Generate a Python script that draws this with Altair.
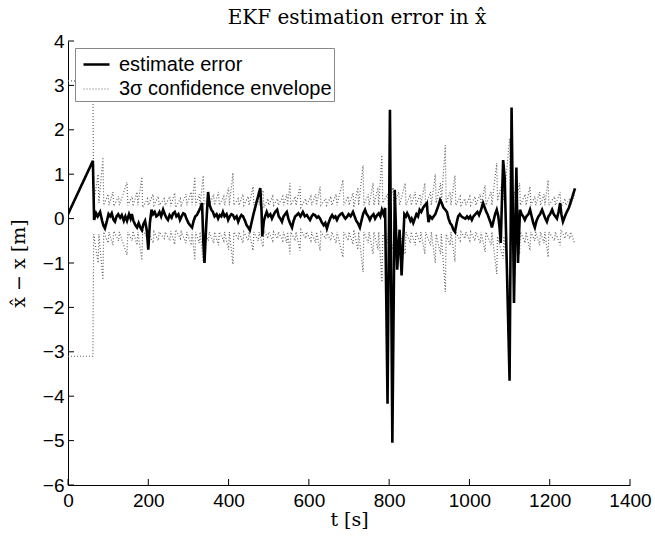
import altair as alt
import pandas as pd

# estimate error (t [s], value [m])
err_t = [0, 62, 65, 70, 74, 80, 85, 88, 92, 97, 101, 105, 109, 113, 117, 121, 125, 130, 134, 139,
         143, 147, 152, 156, 159, 163, 168, 172, 176, 180, 184, 188, 192, 196, 200, 204, 208, 212,
         216, 220, 224, 228, 232, 237, 241, 245, 249, 253, 258, 262, 266, 270, 275, 279, 283, 287,
         291, 295, 300, 304, 309, 313, 317, 321, 325, 330, 334, 337, 340, 344, 349, 353, 357, 361,
         365, 370, 374, 378, 382, 386, 390, 395, 399, 403, 407, 411, 415, 420, 424, 428, 432, 436,
         441, 445, 449, 453, 457, 462, 466, 472, 479, 482, 484, 488, 491, 495, 499, 504, 508, 512,
         516, 521, 525, 529, 533, 537, 541, 545, 549, 553, 558, 562, 566, 570, 574, 579, 585, 590,
         595, 599, 603, 607, 611, 615, 620, 624, 628, 632, 637, 641, 645, 649, 654, 658, 662, 666,
         670, 674, 679, 683, 687, 691, 695, 699, 704, 710, 714, 718, 722, 727, 731, 735, 740, 744,
         748, 752, 756, 761, 765, 770, 774, 778, 782, 786, 790, 796, 802, 808, 814, 820, 826, 831,
         838, 842, 845, 849, 853, 856, 860, 864, 868, 872, 876, 880, 885, 889, 894, 896, 898, 902,
         907, 911, 915, 919, 923, 927, 931, 935, 940, 944, 948, 952, 956, 960, 964, 968, 972, 976,
         980, 985, 990, 994, 998, 1002, 1006, 1010, 1015, 1020, 1024, 1029, 1034, 1038, 1042,
         1045, 1049, 1053, 1056, 1060, 1064, 1068, 1072, 1075, 1078, 1081, 1084, 1088, 1100, 1105,
         1111, 1117, 1121, 1126, 1130, 1134, 1138, 1142, 1147, 1151, 1155, 1159, 1163, 1167, 1172,
         1176, 1181, 1185, 1189, 1193, 1197, 1201, 1206, 1210, 1214, 1218, 1222, 1226, 1229, 1233,
         1240, 1248, 1255, 1263]
err_v = [0.1, 1.3, -0.03, 0.12, 0.05, 0.15, -0.05, -0.15, -0.22, -0.05, 0.1, 0.05, 0.12, -0.02,
         -0.07, 0.05, 0.1, 0.02, 0.08, -0.05, 0.05, -0.05, 0.1, 0.0, 0.1, -0.05, -0.15, -0.2, -0.1,
         -0.2, -0.26, -0.12, -0.05, -0.25, -0.7, -0.1, 0.2, 0.1, 0.15, 0.05, 0.08, 0.15, 0.05, 0.2,
         0.1, 0.02, -0.03, 0.08, 0.02, 0.12, 0.15, 0.05, 0.1, -0.03, 0.05, 0.12, 0.1, 0.0, -0.1,
         -0.15, -0.2, -0.05, 0.05, 0.08, 0.15, 0.25, 0.35, -0.5, -1.0, -0.2, 0.6, 0.3, 0.2, 0.15,
         0.05, 0.1, 0.0, 0.08, 0.05, 0.15, 0.05, 0.1, -0.03, 0.05, 0.1, 0.08, 0.0, 0.05, -0.07,
         0.02, 0.08, 0.05, -0.05, -0.15, -0.2, -0.26, -0.1, 0.1, 0.24, 0.45, 0.69, 0.2, -0.4, -0.05,
         0.05, 0.15, 0.05, 0.1, 0.0, 0.08, 0.15, 0.2, 0.05, 0.0, -0.07, 0.05, 0.1, 0.15, 0.0, -0.1,
         -0.2, -0.05, 0.05, 0.08, 0.12, 0.05, 0.15, 0.05, 0.08, 0.02, -0.03, 0.05, 0.1, 0.08, 0.02,
         0.05, 0.0, -0.08, -0.15, -0.1, -0.22, -0.1, 0.02, 0.08, 0.02, 0.05, -0.03, 0.05, 0.1, 0.12,
         0.05, 0.0, 0.04, 0.1, 0.05, 0.15, 0.05, -0.05, -0.1, -0.2, -0.05, 0.1, 0.2, 0.1, 0.05,
         -0.03, 0.05, 0.1, 0.0, 0.08, 0.12, 0.05, 0.2, 0.1, 0.24, -4.17, 2.45, -5.05, 0.65, -1.15,
         -0.25, -1.28, 0.1, 0.05, 0.12, 0.05, -0.05, 0.0, -0.1, 0.0, 0.1, 0.05, 0.2, 0.15, 0.25,
         0.3, 0.35, 0.1, -0.08, 0.05, 0.0, 0.05, 0.1, 0.2, 0.3, 0.42, 0.35, 0.25, 0.2, 0.15, 0.0,
         -0.1, -0.15, -0.25, -0.3, -0.1, 0.05, 0.1, 0.05, 0.02, 0.0, 0.05, 0.0, 0.05, -0.03, 0.05,
         0.1, 0.15, 0.08, 0.2, 0.35, 0.25, 0.15, 0.1, 0.0, -0.1, -0.2, -0.05, 0.1, 0.2, 0.05, -0.2,
         -0.55, 0.4, 1.32, 0.9, -3.65, 2.5, -1.9, 1.15, -1.0, 0.2, 0.1, 0.05, -0.03, 0.05, 0.1, 0.2,
         0.05, -0.1, -0.2, -0.05, 0.05, 0.1, 0.2, 0.1, 0.0, -0.07, 0.05, 0.1, 0.2, 0.1, 0.05, 0.0,
         0.15, 0.35, 0.1, -0.07, 0.1, 0.25, 0.45, 0.68]

# 3-sigma envelope half-width (plotted as +/-)
env_t = [0, 62, 64, 75, 77, 87, 89, 100, 102, 112, 114, 126, 128, 147, 149, 160, 162, 172, 174,
         184, 186, 198, 200, 212, 214, 225, 227, 240, 242, 254, 256, 266, 268, 280, 282, 294, 296,
         307, 309, 316, 318, 327, 329, 337, 339, 350, 352, 363, 365, 375, 377, 388, 390, 400, 402,
         411, 413, 424, 426, 436, 438, 449, 451, 461, 463, 474, 476, 486, 488, 498, 500, 510, 512,
         522, 524, 535, 537, 545, 547, 553, 555, 566, 568, 578, 580, 592, 594, 605, 607, 617, 619,
         628, 630, 642, 644, 655, 657, 668, 670, 685, 687, 698, 700, 710, 712, 722, 724, 735, 737,
         748, 750, 760, 762, 772, 774, 782, 784, 796, 798, 810, 812, 824, 826, 840, 842, 853, 855,
         865, 867, 877, 879, 889, 891, 903, 905, 915, 917, 928, 930, 940, 942, 952, 954, 964, 966,
         977, 979, 989, 991, 1001, 1003, 1014, 1016, 1027, 1029, 1039, 1041, 1054, 1056, 1068,
         1070, 1084, 1086, 1100, 1102, 1113, 1115, 1125, 1127, 1139, 1141, 1151, 1153, 1163, 1165,
         1175, 1177, 1186, 1188, 1196, 1198, 1212, 1214, 1226, 1228, 1238, 1240, 1250, 1252, 1262]
env_v = [3.1, 3.1, 0.35, 1.0, 0.35, 1.38, 0.3, 0.55, 0.3, 0.6, 0.28, 0.5, 0.3, 0.82, 0.3, 0.5,
         0.28, 0.6, 0.3, 0.94, 0.25, 0.45, 0.3, 0.55, 0.3, 0.5, 0.3, 0.45, 0.3, 0.5, 0.28, 0.58,
         0.25, 0.45, 0.3, 0.55, 0.3, 0.6, 0.3, 0.94, 0.3, 0.55, 0.3, 0.97, 0.3, 0.5, 0.3, 0.55, 0.3,
         0.6, 0.3, 0.5, 0.3, 0.7, 0.3, 1.03, 0.3, 0.45, 0.3, 0.55, 0.3, 0.5, 0.3, 0.72, 0.3, 0.5,
         0.3, 0.64, 0.25, 0.45, 0.3, 0.5, 0.3, 0.45, 0.3, 0.5, 0.3, 0.55, 0.3, 0.8, 0.3, 0.5, 0.3,
         0.72, 0.25, 0.45, 0.3, 0.5, 0.3, 0.55, 0.3, 0.72, 0.3, 0.45, 0.3, 0.5, 0.3, 0.55, 0.3,
         0.87, 0.3, 0.5, 0.3, 0.58, 0.25, 0.7, 0.3, 1.2, 0.3, 0.55, 0.3, 0.8, 0.3, 0.7, 0.3, 1.43,
         0.35, 0.55, 0.3, 0.7, 0.3, 0.6, 0.3, 0.8, 0.3, 0.55, 0.3, 0.6, 0.3, 0.55, 0.3, 0.8, 0.3,
         0.6, 0.3, 1.0, 0.35, 0.8, 0.35, 1.65, 0.35, 0.6, 0.3, 0.97, 0.3, 0.5, 0.3, 0.45, 0.3, 0.5,
         0.3, 0.5, 0.3, 0.55, 0.3, 0.75, 0.3, 0.6, 0.3, 1.25, 0.4, 0.9, 0.4, 1.8, 0.4, 0.6, 0.3,
         0.8, 0.3, 0.55, 0.3, 0.72, 0.3, 0.5, 0.3, 0.6, 0.3, 0.55, 0.3, 0.87, 0.3, 0.5, 0.3, 0.6,
         0.25, 0.45, 0.3, 0.45, 0.3, 0.55]

x_ticks = [0, 200, 400, 600, 800, 1000, 1200, 1400]
y_ticks = [-6, -5, -4, -3, -2, -1, 0, 1, 2, 3, 4]

S_ERR = "estimate error"
S_ENV = "3σ confidence envelope"

err_df = pd.DataFrame({"t": err_t, "v": err_v, "series": S_ERR, "branch": "err"})
up = pd.DataFrame({"t": env_t, "v": env_v, "series": S_ENV, "branch": "upper"})
lo = pd.DataFrame({"t": env_t, "v": [-v for v in env_v], "series": S_ENV, "branch": "lower"})
env_df = pd.concat([up, lo], ignore_index=True)

W, H = 562, 444
SANS = "Liberation Sans"
SERIF = "DejaVu Serif"

xscale = alt.Scale(domain=[0, 1400], nice=False, zero=False)
yscale = alt.Scale(domain=[-6, 4], nice=False, zero=False)

leg = alt.Legend(title=None, orient="none", legendX=7, legendY=7, direction="vertical",
                 fillColor="white", strokeColor="#888888", padding=2,
                 labelFont=SANS, labelFontSize=20, labelColor="black", labelLimit=0,
                 symbolType="stroke", symbolSize=676, symbolOffset=5, labelOffset=8,
                 rowPadding=0)

color = alt.Color("series:N", scale=alt.Scale(domain=[S_ERR, S_ENV], range=["#000000", "#666666"]), legend=leg)
dash = alt.StrokeDash("series:N", scale=alt.Scale(domain=[S_ERR, S_ENV], range=[[1, 0], [1, 2]]), legend=leg)
sw = alt.StrokeWidth("series:N", scale=alt.Scale(domain=[S_ERR, S_ENV], range=[2.6, 1.2]), legend=leg)

xaxis = alt.Axis(values=x_ticks, format="d", title="t [s]", ticks=False, labelFont=SANS,
                 labelFontSize=19, labelColor="black", titleFont=SERIF, titleFontSize=19,
                 titleFontWeight="normal", titleColor="black", domainColor="black", grid=False,
                 labelPadding=6, titlePadding=0, labelFlush=False)
yaxis = alt.Axis(values=y_ticks, format="d", title="x̂ − x [m]", ticks=False, labelFont=SANS,
                 labelFontSize=19, labelColor="black", titleFont=SERIF, titleFontSize=19,
                 titleFontWeight="normal", titleColor="black", domainColor="black", grid=False,
                 labelPadding=4, titlePadding=14, labelFlush=False)

env_layer = alt.Chart(env_df).mark_line(clip=True).encode(
    x=alt.X("t:Q", scale=xscale, axis=xaxis),
    y=alt.Y("v:Q", scale=yscale, axis=yaxis),
    color=color, strokeDash=dash, strokeWidth=sw, detail="branch:N",
    order=alt.Order("t:Q"),
)
err_layer = alt.Chart(err_df).mark_line(clip=True).encode(
    x=alt.X("t:Q", scale=xscale),
    y=alt.Y("v:Q", scale=yscale),
    color=color, strokeDash=dash, strokeWidth=sw, detail="branch:N",
    order=alt.Order("t:Q"),
)
xt = alt.Chart(pd.DataFrame({"t": x_ticks})).mark_rule(color="black", strokeWidth=1).encode(
    x=alt.X("t:Q", scale=xscale), y=alt.value(H), y2=alt.value(H - 6))
yt = alt.Chart(pd.DataFrame({"v": y_ticks})).mark_rule(color="black", strokeWidth=1).encode(
    y=alt.Y("v:Q", scale=yscale), x=alt.value(0), x2=alt.value(6))

chart = alt.layer(env_layer, err_layer, xt, yt).properties(
    width=W, height=H,
    title=alt.TitleParams("EKF estimation error in x̂", font=SERIF, fontSize=20,
                          fontWeight="normal", color="black", anchor="middle", offset=4, dx=8),
    autosize=alt.AutoSizeParams(type="none"),
    padding={"left": 68, "top": 41, "right": 25, "bottom": 52},
).configure(background="white", view=alt.ViewConfig(stroke=None))

chart.save("out.html", embed_options={"renderer": "svg", "actions": False})
